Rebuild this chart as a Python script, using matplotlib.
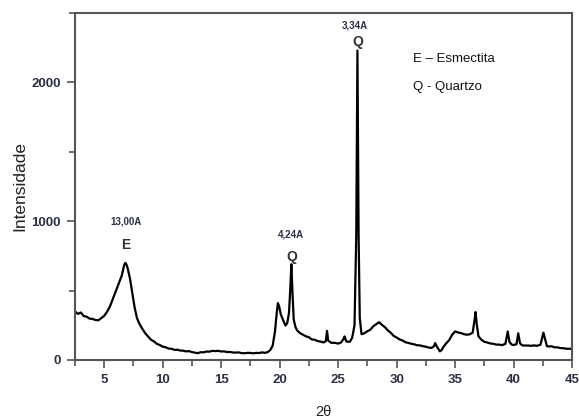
import matplotlib
matplotlib.use("Agg")
import matplotlib.pyplot as plt
from matplotlib.ticker import MultipleLocator

plt.rcParams['font.family'] = ['Liberation Sans', 'DejaVu Sans']

two_theta = [2.5, 2.75, 3.0, 3.25, 3.5, 3.75, 4.0, 4.25, 4.5, 4.75, 5.0, 5.25, 5.5, 5.75,
             6.0, 6.25, 6.5, 6.7, 6.8, 6.9, 7.0, 7.2, 7.4, 7.6, 7.8, 8.0, 8.25, 8.5, 8.75,
             9.0, 9.25, 9.5, 9.75, 10.0, 10.25, 10.5, 10.75, 11.0, 11.25, 11.5, 11.75,
             12.0, 12.25, 12.5, 12.75, 13.0, 13.25, 13.5, 13.75, 14.0, 14.25, 14.5, 14.75,
             15.0, 15.25, 15.5, 15.75, 16.0, 16.25, 16.5, 16.75, 17.0, 17.25, 17.5, 17.75,
             18.0, 18.25, 18.5, 18.75, 19.0, 19.2, 19.4, 19.6, 19.75, 19.85, 19.95, 20.1,
             20.3, 20.5, 20.65, 20.8, 20.9, 21.0, 21.1, 21.2, 21.35, 21.5, 21.75, 22.0,
             22.25, 22.5, 22.75, 23.0, 23.25, 23.5, 23.75, 23.95, 24.05, 24.15, 24.4, 24.75,
             25.0, 25.25, 25.45, 25.55, 25.7, 26.0, 26.2, 26.4, 26.55, 26.65, 26.75, 26.85,
             27.0, 27.25, 27.5, 27.75, 28.0, 28.25, 28.5, 28.75, 29.0, 29.25, 29.5, 29.75,
             30.0, 30.25, 30.5, 30.75, 31.0, 31.25, 31.5, 31.75, 32.0, 32.25, 32.5, 32.75,
             33.0, 33.2, 33.3, 33.45, 33.7, 33.85, 34.0, 34.25, 34.5, 34.75, 35.0, 35.25,
             35.5, 35.75, 36.0, 36.25, 36.5, 36.65, 36.75, 36.85, 37.0, 37.25, 37.5, 37.75,
             38.0, 38.25, 38.5, 38.75, 39.0, 39.3, 39.5, 39.65, 39.85, 40.0, 40.25, 40.4,
             40.55, 40.75, 41.0, 41.25, 41.5, 41.75, 42.0, 42.3, 42.55, 42.7, 42.85, 43.0,
             43.25, 43.5, 43.75, 44.0, 44.25, 44.5, 44.75, 45.0]

intensity = [350, 332, 342, 316, 312, 298, 296, 288, 286, 302, 318, 348, 388, 444,
             498, 553, 608, 682, 700, 688, 662, 588, 482, 378, 302, 262, 226, 193, 170,
             146, 134, 116, 108, 96, 92, 82, 81, 73, 74, 68, 67,
             62, 64, 57, 53, 49, 56, 55, 61, 60, 66, 64, 66,
             61, 62, 57, 58, 54, 53, 55, 49, 49, 51, 51, 48,
             51, 50, 55, 51, 58, 72, 102, 205, 340, 410, 388, 328,
             286, 248, 266, 340, 500, 690, 478, 292, 238, 212, 193, 182,
             170, 164, 148, 146, 136, 133, 126, 136, 210, 140, 124, 123,
             118, 126, 150, 170, 133, 131, 160, 250, 900, 2230, 900, 300,
             186, 193, 207, 218, 242, 258, 272, 253, 236, 213, 196, 173,
             162, 148, 141, 128, 123, 117, 113, 106, 105, 99, 96, 89,
             87, 100, 122, 95, 62, 72, 94, 121, 144, 182, 206, 198,
             194, 186, 182, 185, 196, 280, 345, 258, 170, 146, 131, 126,
             119, 117, 111, 111, 107, 116, 205, 130, 110, 108, 114, 192,
             120, 105, 104, 104, 102, 105, 102, 110, 197, 150, 100, 97,
             99, 91, 91, 86, 85, 81, 81, 79]

fig = plt.figure(figsize=(5.79, 4.18), dpi=100)
ax = fig.add_axes([0.1295, 0.1388, 0.8585, 0.8302])
ax.plot(two_theta, intensity, color='black', linewidth=1.6)

ax.set_xlim(2.5, 45)
ax.set_ylim(0, 2500)
ax.xaxis.set_major_locator(MultipleLocator(5))
ax.xaxis.set_minor_locator(MultipleLocator(2.5))
ax.yaxis.set_major_locator(MultipleLocator(1000))
ax.yaxis.set_minor_locator(MultipleLocator(500))

tick_color = '#2a2f45'
ax.tick_params(axis='both', which='both', direction='out', top=False, right=False,
               colors='#555555', labelcolor=tick_color, labelsize=9.5)
ax.tick_params(which='major', length=6, width=1.2, pad=4)
ax.tick_params(which='minor', length=4, width=1.2)
for lbl in ax.get_xticklabels() + ax.get_yticklabels():
    lbl.set_fontweight('bold')
for sp in ax.spines.values():
    sp.set_color('#555555')
    sp.set_linewidth(1.5)

ax.set_ylabel('Intensidade', fontsize=12.5, color='#222222', labelpad=3)
ax.set_xlabel('2θ', fontsize=10.5, color='#222222', labelpad=14)

ax.text(6.9, 1000, '13,00A', fontsize=7, fontweight='bold', color='#2a2f45',
        ha='center', va='center')
ax.text(6.8, 830, 'E', fontsize=10, fontweight='bold', color='#333333',
        ha='center', va='center')
ax.text(21.0, 905, '4,24A', fontsize=7, fontweight='bold', color='#2a2f45',
        ha='center', va='center')
ax.text(21.0, 740, 'Q', fontsize=10, fontweight='bold', color='#333333',
        ha='center', va='center')
ax.text(26.4, 2410, '3,34A', fontsize=7, fontweight='bold', color='#2a2f45',
        ha='center', va='center')
ax.text(26.7, 2290, 'Q', fontsize=10, fontweight='bold', color='#333333',
        ha='center', va='center')
ax.text(31.4, 2170, 'E – Esmectita', fontsize=9.5, color='#111111', ha='left', va='center')
ax.text(31.4, 1970, 'Q - Quartzo', fontsize=9.5, color='#111111', ha='left', va='center')

fig.savefig('out.png', dpi=100)
